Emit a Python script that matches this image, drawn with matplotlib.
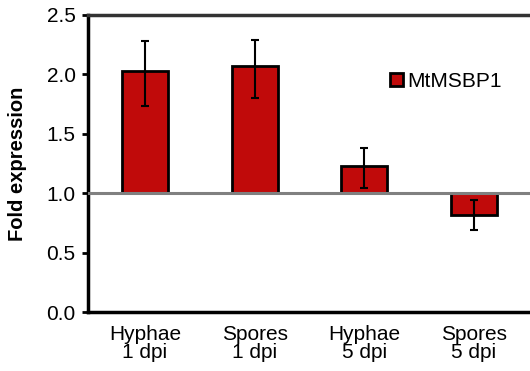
import matplotlib
matplotlib.use("Agg")
import matplotlib.pyplot as plt
import numpy as np

plt.rcParams['font.family'] = ['Liberation Sans', 'DejaVu Sans']

categories = ["Hyphae\n1 dpi", "Spores\n1 dpi", "Hyphae\n5 dpi", "Spores\n5 dpi"]
values = [2.03, 2.07, 1.23, 0.82]
err_low = [1.73, 1.80, 1.04, 0.69]
err_high = [2.28, 2.29, 1.38, 0.94]
series_name = "MtMSBP1"
baseline = 1.0

fig = plt.figure(figsize=(5.3, 3.71), dpi=100)
W, H = 530, 371
ax = fig.add_axes([88/W, 1 - 312/H, (534-88)/W, (312-15)/H])

x = np.arange(len(categories))
vals = np.array(values)
heights = vals - baseline
ax.bar(x, heights, bottom=baseline, width=0.42, color='#C00A0A', edgecolor='black',
       linewidth=2, label=series_name, zorder=2)
yerr = np.array([vals - np.array(err_low), np.array(err_high) - vals])
ax.errorbar(x, vals, yerr=yerr, fmt='none', ecolor='black', elinewidth=1.5,
            capsize=3, capthick=1.5, zorder=3)
ax.axhline(baseline, color='#808080', linewidth=2.2, zorder=4)

ax.set_xlim(-0.52, 3.55)
ax.set_ylim(0, 2.5)
ax.set_yticks([0, 0.5, 1.0, 1.5, 2.0, 2.5])
ax.set_yticklabels(["0.0", "0.5", "1.0", "1.5", "2.0", "2.5"], fontsize=15)
ax.set_xticks(x)
ax.set_xticklabels(categories, fontsize=15, linespacing=1.0)
ax.tick_params(axis='x', length=0, pad=9)
ax.tick_params(axis='y', length=4, width=2, direction='out', pad=5)
for s in ['left', 'bottom', 'top', 'right']:
    ax.spines[s].set_linewidth(2.5)
    ax.spines[s].set_color('black')
ax.spines['top'].set_color('#333333')
ax.set_ylabel("Fold expression", fontsize=14.5, fontweight='bold', labelpad=14)

leg = ax.legend(loc='upper left', bbox_to_anchor=((390-88)/446, 1 - (72-15)/297),
                frameon=False, fontsize=15, handlelength=0.62, handleheight=0.62,
                handletextpad=0.2, borderpad=0, borderaxespad=0)

fig.savefig("out.png", dpi=100)
